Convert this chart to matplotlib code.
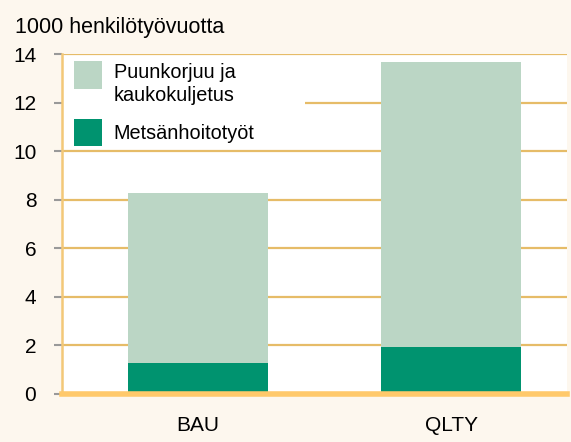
import matplotlib.pyplot as plt
from matplotlib.patches import Rectangle

plt.rcParams['font.family'] = ['Liberation Sans', 'DejaVu Sans']

# --- data ---
scenarios = ["BAU", "QLTY"]
metsanhoito = [1.27, 1.93]           # dark green, bottom
puunkorjuu = [7.00, 11.75]           # light green, stacked on top
yticks = [0, 2, 4, 6, 8, 10, 12, 14]

dark_green = "#00936F"
light_green = "#BBD6C5"
grid_col = "#E6BC68"
bg_col = "#FDF7EE"

fig = plt.figure(figsize=(5.71, 4.42), dpi=100, facecolor=bg_col)
ax = fig.add_axes([0.1086, 0.109, 0.8844, 0.768])
ax.set_facecolor("white")

x = list(range(len(scenarios)))
ax.bar(x, metsanhoito, width=0.553, color=dark_green, zorder=3)
ax.bar(x, puunkorjuu, width=0.553, bottom=metsanhoito, color=light_green, zorder=3)

ax.set_xlim(-0.5375, 1.458)
ax.set_ylim(0, 14)
ax.set_yticks(yticks)
ax.set_yticklabels([str(t) for t in yticks], fontsize=15)
ax.set_xticks(x)
ax.set_xticklabels(scenarios, fontsize=15)
ax.tick_params(axis="x", length=0, pad=16)
ax.tick_params(axis="y", length=6, width=1.5, color="#999999", pad=12.5)

for t in yticks[1:]:
    ax.axhline(t, color=grid_col, lw=1.6, zorder=1)

for s in ["top", "right"]:
    ax.spines[s].set_visible(False)
ax.spines["left"].set_color("#F3C878")
ax.spines["left"].set_linewidth(1.8)
ax.spines["bottom"].set_color("#FFC96B")
ax.spines["bottom"].set_linewidth(4)
ax.spines["bottom"].set_zorder(4)

# legend drawn by hand: white box hiding the grid, two swatches, labels
ax.add_patch(Rectangle((0.0, 0.725), 0.481, 0.27, transform=ax.transAxes,
                       facecolor="white", edgecolor="none", zorder=2))
ax.add_patch(Rectangle((0.0238, 0.8975), 0.0554, 0.0824, transform=ax.transAxes,
                       facecolor=light_green, edgecolor="none", zorder=5))
ax.add_patch(Rectangle((0.0238, 0.7297), 0.0554, 0.0800, transform=ax.transAxes,
                       facecolor=dark_green, edgecolor="none", zorder=5))
ax.text(0.102, 0.930, "Puunkorjuu ja", transform=ax.transAxes, fontsize=14.3,
        va="baseline", zorder=5)
ax.text(0.102, 0.862, "kaukokuljetus", transform=ax.transAxes, fontsize=14.3,
        va="baseline", zorder=5)
ax.text(0.102, 0.750, "Metsänhoitotyöt", transform=ax.transAxes, fontsize=14.3,
        va="baseline", zorder=5)

fig.text(0.026, 0.937, "1000 henkilötyövuotta", fontsize=15.5, va="center")

fig.savefig("out.png", dpi=100, facecolor=bg_col)
